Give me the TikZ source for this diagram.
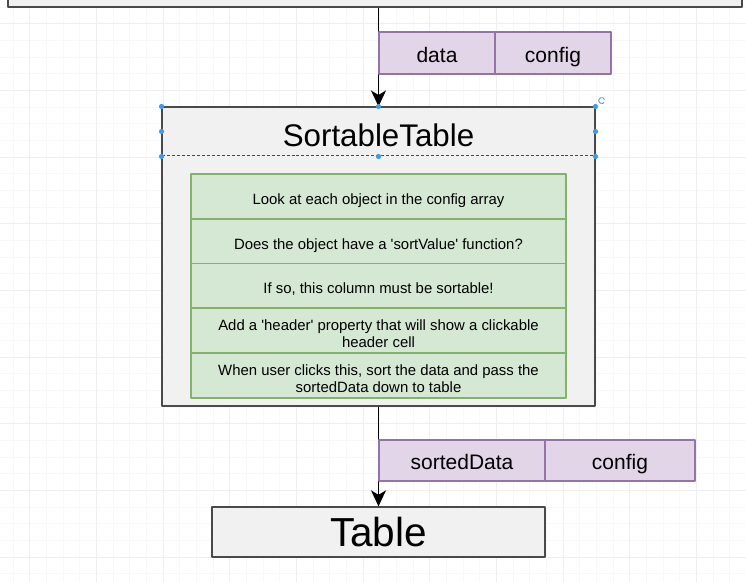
\documentclass[tikz,border=0pt]{standalone}
\usepackage{fontspec}
\setmainfont{Liberation Sans}
\usetikzlibrary{arrows.meta}

\definecolor{gridminor}{HTML}{F8F8F8}
\definecolor{gridmajor}{HTML}{EEEEEE}
\definecolor{boxfill}{HTML}{F1F1F1}
\definecolor{boxline}{HTML}{4A4A4A}
\definecolor{propfill}{HTML}{E1D5E7}
\definecolor{propline}{HTML}{9673A6}
\definecolor{stepfill}{HTML}{D5E8D4}
\definecolor{stepline}{HTML}{82B366}
\definecolor{handleblue}{HTML}{3D9BE9}

\begin{document}
\begin{tikzpicture}[line join=bevel,
  greybox/.style={draw=boxline,fill=boxfill,line width=1.3bp,inner sep=0pt},
  propbox/.style={draw=propline,fill=propfill,line width=1.3bp,inner sep=0pt,
    minimum height=42bp,text height=19.3bp,text depth=0.7bp,
    font=\fontsize{21bp}{25bp}\selectfont},
  stepbox/.style={draw=stepline,fill=stepfill,line width=1.3bp,inner sep=0pt,
    minimum width=375bp,minimum height=44.8bp,align=center,
    font=\fontsize{14.9bp}{16.7bp}\selectfont},
  oneline/.style={text height=15.8bp,text depth=0.2bp},
  flowline/.style={draw=black,line width=1.5bp,-{Stealth[length=16bp,width=15bp,inset=4.5bp]}}]
\useasboundingbox (0bp,0bp) rectangle (746bp,582bp);
\clip (0bp,0bp) rectangle (746bp,582bp);
\fill[white] (0bp,0bp) rectangle (746bp,582bp);

% Grid
\draw[gridminor,line width=0.6bp,shift={(13bp,8.33bp)},step=16.667bp] (-20bp,-20bp) grid (760bp,600bp);
\draw[gridmajor,line width=0.8bp,shift={(29.67bp,25bp)},step=66.667bp] (-70bp,-70bp) grid (760bp,600bp);

% Node: parent (cut off at the top)
\node[greybox,minimum width=734bp,minimum height=40bp] (parent) at (375bp,595bp) {};

% Node: SortableTable
\node[greybox,minimum width=433bp,minimum height=299bp] (sortable) at (378.5bp,325.5bp) {};
\node[draw=boxline,densely dashed,line width=1bp,inner sep=0pt,minimum width=433bp,minimum height=49bp,
  text height=30.4bp,text depth=0bp,
  font=\fontsize{31.3bp}{36bp}\selectfont] (sortableHead) at (378.5bp,450.5bp) {SortableTable};

% Node: steps
\node[stepbox,oneline] (step1) at (378.5bp,385.5bp) {Look at each object in the config array};
\node[stepbox,oneline] (step2) at (378.5bp,340.5bp) {Does the object have a \textquotesingle sortValue\textquotesingle\ function?};
\node[stepbox,oneline] (step3) at (378.5bp,296bp) {If so, this column must be sortable!};
\node[stepbox] (step4) at (378.5bp,251.5bp) {\rule{0pt}{17bp}Add a \textquotesingle header\textquotesingle\ property that will show a clickable\\header cell};
\node[stepbox] (step5) at (378.5bp,206.5bp) {\rule{0pt}{17bp}When user clicks this, sort the data and pass the\\sortedData down to table};

% Node: Table
\node[greybox,minimum width=333bp,minimum height=50bp,
  font=\fontsize{40.5bp}{46bp}\selectfont] (table) at (378.5bp,50bp) {Table};

% Edge: parent -> SortableTable
\draw [flowline] (sortableHead.north |- parent.south) -- (sortableHead.north);

% Edge: SortableTable -> Table
\draw [flowline] (sortable.south) -- (table.north);

% Node: props into SortableTable
\node[propbox,minimum width=116bp] (dataProp) at (437bp,529bp) {data};
\node[propbox,minimum width=116bp] (configProp) at (553bp,529bp) {config};

% Node: props into Table
\node[propbox,minimum width=166bp,minimum height=41bp] (sortedProp) at (462bp,121.5bp) {sortedData};
\node[propbox,minimum width=150bp,minimum height=41bp] (configPropB) at (620bp,121.5bp) {config};

% Selection handles
\fill[handleblue] (sortableHead.north west) circle (2.6bp) (sortableHead.north) circle (2.6bp)
  (sortableHead.north east) circle (2.6bp) (sortableHead.west) circle (2.6bp)
  (sortableHead.east) circle (2.6bp) (sortableHead.south west) circle (2.6bp)
  (sortableHead.south) circle (2.6bp) (sortableHead.south east) circle (2.6bp);
\draw[handleblue,line width=0.9bp] ([shift={(9bp,7bp)}]sortableHead.north east)
  arc[start angle=20,end angle=320,radius=3bp];
%
\end{tikzpicture}
\end{document}
